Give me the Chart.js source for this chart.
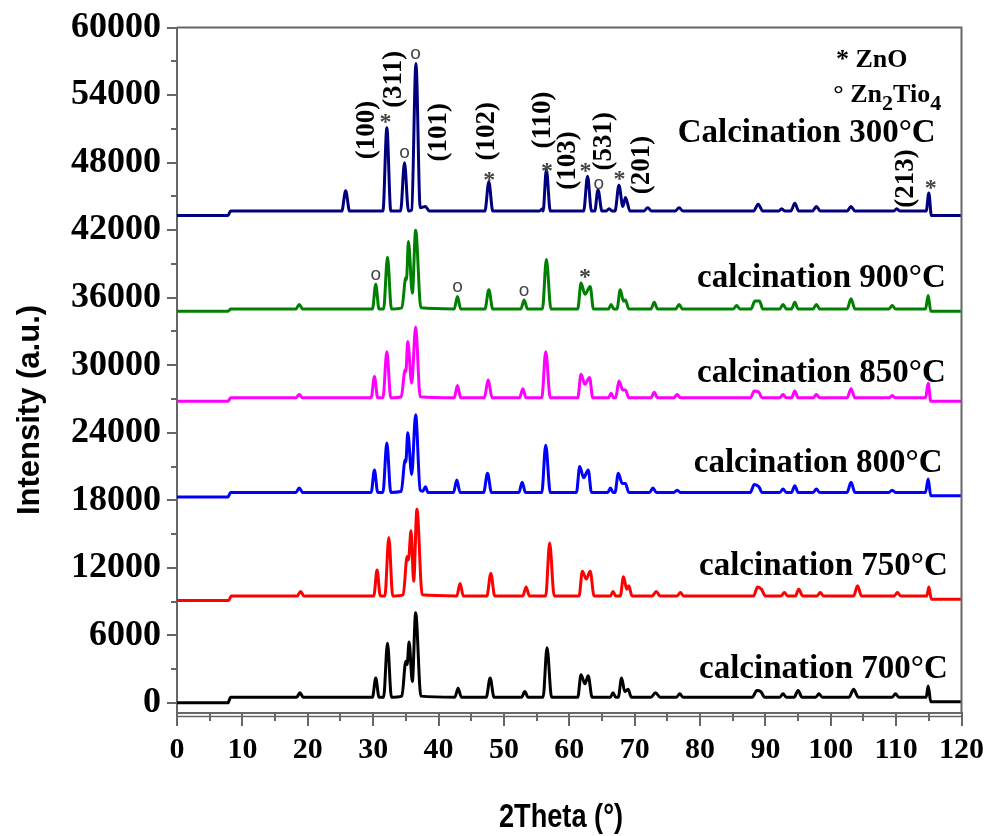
<!DOCTYPE html>
<html>
<head>
<meta charset="utf-8">
<title>XRD calcination</title>
<script src="https://cdn.jsdelivr.net/npm/chart.js@4.4.1/dist/chart.umd.min.js"></script>
<style>
  html, body { margin: 0; padding: 0; background: #fff; }
</style>
</head>
<body>
<canvas id="xrd" width="990" height="836"></canvas>
<script>
'use strict';

// ── DATA: [2theta, intensity] ───────────────────────────────
const trace700 = [
  [0,0],[7.8,0],[8.2,500],[18.3,500],[18.8,900],[19.3,500],
  [29.9,500],[30.4,2200],[30.9,500],
  [31.6,500],[32.2,5300],[32.8,500],
  [34.4,600],[35.0,3700],[35.2,3400],[35.5,5400],[36.0,1900],[36.5,8000],[37.3,600],
  [42.5,500],[43.0,1300],[43.5,500],
  [47.3,500],[47.9,2200],[48.5,500],
  [52.7,500],[53.2,1000],[53.7,500],
  [56.0,500],[56.6,4900],[57.3,500],
  [61.3,500],[61.8,2500],[62.4,1700],[62.9,2400],[63.5,500],
  [66.3,500],[66.7,900],[67.1,500],
  [67.5,500],[68.0,2200],[68.5,1000],[69.0,1200],[69.5,500],
  [72.5,500],[73.2,900],[73.9,500],
  [76.4,500],[76.9,800],[77.4,500],
  [88.0,500],[88.7,1100],[89.3,1000],[89.9,500],
  [92.2,500],[92.7,800],[93.2,500],
  [94.4,500],[95.0,1100],[95.6,500],
  [97.7,500],[98.2,800],[98.7,500],
  [102.8,500],[103.5,1200],[104.2,500],
  [109.4,500],[109.9,800],[110.4,500],
  [114.6,500],[114.9,1500],[115.3,100],[120,100]
];
const trace750 = [
  [0,9100],[7.9,9100],[8.3,9500],[18.4,9500],[18.9,9900],[19.4,9500],
  [30.1,9500],[30.6,11800],[31.1,9500],
  [31.8,9500],[32.4,14700],[33.0,9500],
  [34.6,9600],[35.2,13000],[35.4,12700],[35.8,15300],[36.2,10800],[36.7,17200],[37.5,9600],
  [42.8,9500],[43.3,10600],[43.8,9500],
  [47.4,9500],[48.0,11500],[48.6,9500],
  [52.9,9500],[53.4,10300],[53.9,9500],
  [56.4,9500],[57.0,14200],[57.7,9500],
  [61.5,9500],[62.0,11700],[62.6,11000],[63.2,11700],[63.8,9500],
  [66.3,9500],[66.7,9900],[67.1,9500],
  [67.8,9500],[68.3,11200],[68.8,10100],[69.1,10400],[69.6,9500],
  [72.7,9500],[73.3,9900],[73.9,9500],
  [76.5,9500],[77.0,9800],[77.5,9500],
  [88.2,9500],[88.8,10300],[89.4,10100],[90.0,9500],
  [92.4,9500],[92.9,9800],[93.4,9500],
  [94.6,9500],[95.1,10100],[95.7,9500],
  [97.9,9500],[98.4,9800],[98.9,9500],
  [103.5,9500],[104.1,10400],[104.7,9500],
  [109.7,9500],[110.2,9800],[110.7,9500],
  [114.7,9500],[115.0,10300],[115.4,9200],[120,9200]
];
const trace800 = [
  [0,18300],[7.8,18300],[8.2,18700],[18.2,18700],[18.7,19100],[19.2,18700],
  [29.7,18700],[30.2,20700],[30.7,18700],
  [31.5,18700],[32.1,23100],[32.7,18700],
  [34.3,18800],[34.9,21600],[35.0,21400],[35.3,24000],[35.9,20300],[36.5,25600],[37.2,18900],
  [37.6,18800],[38.0,19200],[38.4,18700],
  [42.3,18700],[42.8,19800],[43.3,18700],
  [46.9,18700],[47.5,20400],[48.1,18700],
  [52.3,18700],[52.8,19600],[53.3,18700],
  [55.8,18700],[56.4,22900],[57.1,18700],
  [61.1,18700],[61.6,21000],[62.2,20000],[62.9,20700],[63.4,18700],
  [65.9,18700],[66.3,19100],[66.7,18700],
  [67.0,18700],[67.5,20400],[68.1,19500],[68.6,19500],[69.1,18700],
  [72.3,18700],[72.8,19100],[73.3,18700],
  [76.0,18700],[76.5,18900],[77.0,18700],
  [87.7,18700],[88.3,19400],[89.0,19200],[89.5,18700],
  [92.2,18700],[92.7,19000],[93.2,18700],
  [94.0,18700],[94.5,19300],[95.0,18700],
  [97.3,18700],[97.8,19000],[98.3,18700],
  [102.5,18700],[103.1,19600],[103.7,18700],
  [108.9,18700],[109.4,18900],[109.9,18700],
  [114.5,18700],[114.9,19900],[115.3,18400],[120,18400]
];
const trace850 = [
  [0,26800],[7.8,26800],[8.2,27100],[18.2,27100],[18.7,27400],[19.2,27100],
  [29.7,27100],[30.2,29000],[30.7,27100],
  [31.5,27100],[32.1,31200],[32.7,27100],
  [34.3,27200],[34.9,29600],[35.0,29400],[35.3,32100],[35.9,28400],[36.5,33400],[37.2,27200],
  [42.4,27100],[42.9,28200],[43.4,27100],
  [47.0,27100],[47.6,28700],[48.2,27100],
  [52.4,27100],[52.9,27900],[53.4,27100],
  [55.8,27100],[56.4,31200],[57.1,27100],
  [61.3,27100],[61.8,29200],[62.4,28300],[63.1,28900],[63.6,27100],
  [66.0,27100],[66.4,27500],[66.8,27100],
  [67.1,27100],[67.6,28600],[68.2,27800],[68.6,27800],[69.1,27100],
  [72.5,27100],[73.0,27600],[73.5,27100],
  [76.0,27100],[76.5,27400],[77.0,27100],
  [87.7,27100],[88.3,27700],[89.0,27600],[89.5,27100],
  [92.2,27100],[92.7,27400],[93.2,27100],
  [94.0,27100],[94.5,27700],[95.0,27100],
  [97.3,27100],[97.8,27400],[98.3,27100],
  [102.5,27100],[103.1,27900],[103.7,27100],
  [108.9,27100],[109.4,27300],[109.9,27100],
  [114.5,27100],[114.9,28400],[115.3,26800],[120,26800]
];
const trace900 = [
  [0,34800],[7.8,34800],[8.2,35000],[18.2,35000],[18.7,35400],[19.2,35000],
  [29.9,35000],[30.4,37200],[30.9,35000],
  [31.6,35000],[32.2,39600],[32.8,35000],
  [34.4,35100],[35.0,37800],[35.1,37600],[35.4,41000],[36.0,36400],[36.5,42000],[37.3,35100],
  [42.4,35000],[42.9,36100],[43.4,35000],
  [47.1,35000],[47.7,36700],[48.3,35000],
  [52.6,35000],[53.1,35800],[53.6,35000],
  [55.9,35000],[56.5,39400],[57.2,35000],
  [61.3,35000],[61.8,37300],[62.4,36300],[63.2,37000],[63.7,35000],
  [66.0,35000],[66.4,35400],[66.8,35000],
  [67.3,35000],[67.8,36700],[68.3,35700],[68.6,35800],[69.1,35000],
  [72.5,35000],[73.0,35600],[73.5,35000],
  [76.3,35000],[76.8,35400],[77.3,35000],
  [85.1,35000],[85.6,35300],[86.1,35000],
  [87.8,35000],[88.4,35700],[89.1,35700],[89.6,35000],
  [92.2,35000],[92.7,35400],[93.2,35000],
  [94.0,35000],[94.5,35600],[95.0,35000],
  [97.3,35000],[97.8,35400],[98.3,35000],
  [102.5,35000],[103.1,35900],[103.7,35000],
  [108.9,35000],[109.4,35300],[109.9,35000],
  [114.5,35000],[114.9,36200],[115.3,34800],[120,34800]
];
const trace300 = [
  [0,43300],[7.8,43300],[8.2,43700],
  [25.2,43700],[25.8,45500],[26.4,43700],
  [31.5,43700],[32.1,51100],[32.7,43700],
  [34.2,43700],[34.8,48000],[35.4,43700],
  [35.9,43800],[36.55,56800],[37.2,44000],[38.0,44100],[38.6,43700],
  [47.1,43700],[47.7,46300],[48.3,43700],
  [55.4,43700],[55.9,43900],[56.0,43700],[56.5,47400],[57.1,43700],
  [62.2,43700],[62.8,46800],[63.4,43700],
  [63.9,43700],[64.4,45600],[65.0,43700],
  [65.6,43700],[66.1,43900],[66.6,43700],
  [67.0,43700],[67.6,46000],[68.2,44100],[68.6,44900],[69.3,43700],
  [71.4,43700],[72.0,44000],[72.6,43700],
  [76.2,43700],[76.8,44000],[77.4,43700],
  [88.2,43700],[88.9,44300],[89.6,43700],
  [92.0,43700],[92.5,43900],[93.0,43700],
  [93.9,43700],[94.5,44400],[95.1,43700],
  [97.2,43700],[97.8,44100],[98.4,43700],
  [102.5,43700],[103.1,44100],[103.7,43700],
  [109.6,43700],[110.1,43900],[110.6,43700],
  [114.6,43700],[115.0,45300],[115.4,43300],[120,43300]
];

const seriesNames  = ['calcination 700°C','calcination 750°C','calcination 800°C','calcination 850°C','calcination 900°C','Calcination 300°C'];
const seriesTraces = [trace700, trace750, trace800, trace850, trace900, trace300];
const seriesColors = ['#000000','#ff0000','#0000ff','#ff00ff','#008000','#00007f'];

const yTickValues = [0,6000,12000,18000,24000,30000,36000,42000,48000,54000,60000];

// Miller indices over the 300°C pattern
const millerText      = ['(100)','(311)','(101)','(102)','(110)','(103)','(531)','(201)','(213)'];
const millerTheta     = [29.05, 33.15, 40.15, 47.45, 55.97, 59.8, 65.25, 71.2, 111.5];
const millerIntensity = [50900, 55400, 50700, 50800, 51800, 48200, 49900, 47800, 46600];

// phase markers (* ZnO, o Zn2TiO4)
const markerText      = ['*','o','o','*','*','*','o','*','*', 'o','o','o','*'];
const markerTheta     = [31.9, 36.5, 34.8, 47.75, 56.6, 62.5, 64.5, 67.7, 115.3, 30.4, 42.9, 53.1, 62.4];
const markerIntensity = [52000, 57700, 48900, 46800, 47600, 47600, 46100, 46900, 46100, 38000, 37000, 36600, 38200];

// sample label anchors (right end, baseline)
const labelTheta     = [117.9, 117.9, 117.1, 117.6, 117.6, 116.05];
const labelIntensity = [2200, 11400, 20500, 28500, 36950, 49800];

// ── DECORATION PLUGIN ───────────────────────────────────────
const xrdDecor = {
  id: 'xrdDecor',
  afterDraw(chart){
    const {ctx, chartArea:a, scales:{x, y}} = chart;
    ctx.save();

    // frame top + right, second bottom rule
    ctx.strokeStyle = '#666'; ctx.lineWidth = 2;
    ctx.beginPath();
    ctx.moveTo(a.left, a.top); ctx.lineTo(a.right, a.top); ctx.lineTo(a.right, a.bottom);
    ctx.stroke();
    ctx.lineWidth = 1.5;
    ctx.beginPath();
    ctx.moveTo(a.left, a.bottom + 3.5); ctx.lineTo(a.right, a.bottom + 3.5);
    ctx.stroke();

    // minor ticks
    ctx.lineWidth = 2;
    ctx.beginPath();
    for(let v = 3000; v < 60000; v += 6000){
      const py = Math.round(y.getPixelForValue(v));
      ctx.moveTo(a.left - 6, py); ctx.lineTo(a.left, py);
    }
    for(let v = 5; v < 120; v += 10){
      const px = Math.round(x.getPixelForValue(v));
      ctx.moveTo(px, a.bottom); ctx.lineTo(px, a.bottom + 8);
    }
    ctx.stroke();

    // miller indices
    ctx.fillStyle = '#000';
    ctx.font = "bold 27px 'Liberation Serif'";
    ctx.textAlign = 'center'; ctx.textBaseline = 'middle';
    millerText.forEach((t, i) => {
      ctx.save();
      ctx.translate(x.getPixelForValue(millerTheta[i]), y.getPixelForValue(millerIntensity[i]));
      ctx.rotate(-Math.PI / 2);
      ctx.fillText(t, 0, 0);
      ctx.restore();
    });

    // phase markers
    ctx.fillStyle = '#444';
    markerText.forEach((t, i) => {
      ctx.font = t === '*' ? "bold 24px 'Liberation Serif'" : "19px 'Liberation Sans'";
      const dy = t === '*' ? 5 : 0;
      ctx.fillText(t, x.getPixelForValue(markerTheta[i]), y.getPixelForValue(markerIntensity[i]) + dy);
    });

    // sample labels
    ctx.fillStyle = '#000';
    ctx.font = "bold 33px 'Liberation Serif'";
    ctx.textAlign = 'right'; ctx.textBaseline = 'alphabetic';
    seriesNames.forEach((t, i) => {
      ctx.fillText(t, x.getPixelForValue(labelTheta[i]), y.getPixelForValue(labelIntensity[i]));
    });

    // phase key
    ctx.textAlign = 'left';
    ctx.font = "bold 26px 'Liberation Serif'";
    ctx.fillText('* ZnO', x.getPixelForValue(100.8), y.getPixelForValue(56500));
    let px = x.getPixelForValue(100.4);
    const py = y.getPixelForValue(53400);
    const parts = [['° Zn', 0, 26], ['2', 8, 22], ['Tio', 0, 26], ['4', 8, 22]];
    parts.forEach(([s, off, fs]) => {
      ctx.font = `bold ${fs}px 'Liberation Serif'`;
      ctx.fillText(s, px, py + off);
      px += ctx.measureText(s).width;
    });

    // axis titles
    ctx.font = "bold 31px 'Liberation Sans'";
    ctx.textAlign = 'center'; ctx.textBaseline = 'middle';
    ctx.save();
    ctx.translate(30, 410); ctx.rotate(-Math.PI / 2);
    ctx.fillText('Intensity (a.u.)', 0, 0);
    ctx.restore();
    ctx.save();
    ctx.translate(561, 818); ctx.scale(0.8, 1);
    ctx.font = "bold 34px 'Liberation Sans'";
    ctx.fillText('2Theta (°)', 0, 0);
    ctx.restore();

    ctx.restore();
  }
};

// ── CHART ───────────────────────────────────────────────────
const datasets = seriesTraces.map((tr, i) => ({
  label: seriesNames[i],
  data: tr.map(p => ({x: p[0], y: p[1]})),
  borderColor: seriesColors[i],
  backgroundColor: seriesColors[i],
  borderWidth: 3,
  pointRadius: 0,
  cubicInterpolationMode: 'monotone',
  fill: false
}));

new Chart(document.getElementById('xrd').getContext('2d'), {
  type: 'line',
  data: { datasets },
  options: {
    responsive: false,
    animation: false,
    devicePixelRatio: 1,
    layout: { padding: { top: 27, right: 19, left: 0, bottom: 0 } },
    plugins: { legend: { display: false }, tooltip: { enabled: false } },
    scales: {
      x: {
        type: 'linear', min: 0, max: 120,
        ticks: { stepSize: 10, color: '#000', padding: 6,
                 font: { family: "'Liberation Serif'", weight: 'bold', size: 30 } },
        grid: { drawOnChartArea: false, tickLength: 13, color: '#666', lineWidth: 2 },
        border: { color: '#666', width: 2 },
        afterFit(scale){ scale.height = 123; }
      },
      y: {
        type: 'linear', min: -900, max: 60000,
        afterBuildTicks(scale){ scale.ticks = yTickValues.map(v => ({value: v})); },
        ticks: { color: '#000', padding: 6, callback: v => String(v),
                 font: { family: "'Liberation Serif'", weight: 'bold', size: 36 } },
        grid: { drawOnChartArea: false, tickLength: 10, color: '#666', lineWidth: 2 },
        border: { color: '#666', width: 2 },
        afterFit(scale){ scale.width = 177; }
      }
    }
  },
  plugins: [ xrdDecor ]
});
</script>
</body>
</html>
